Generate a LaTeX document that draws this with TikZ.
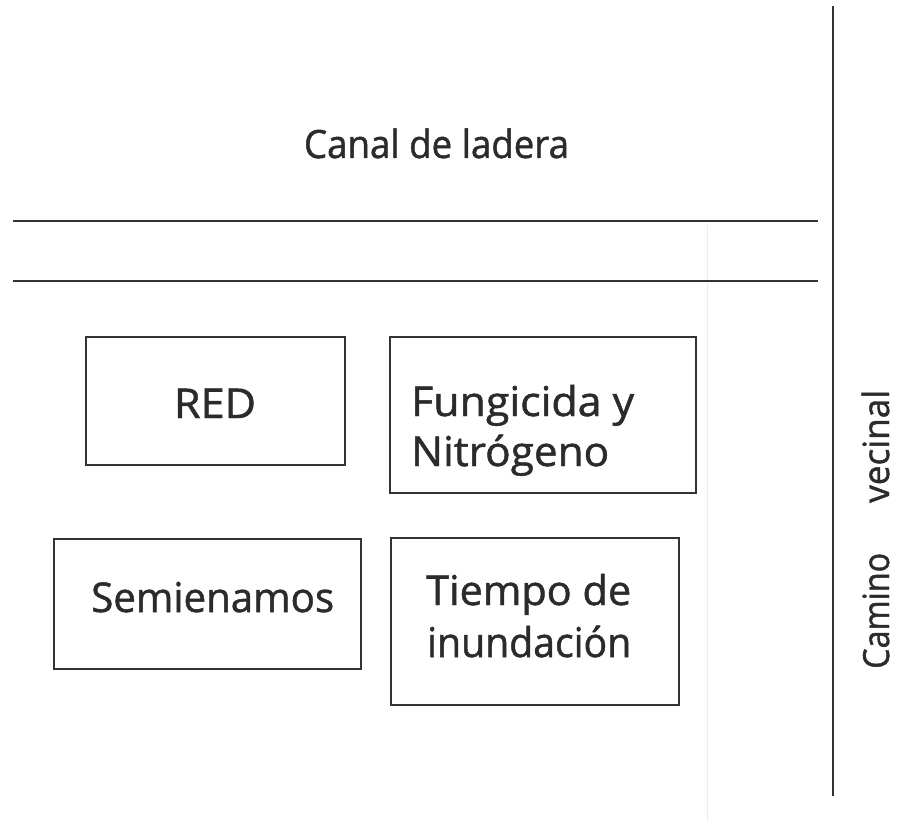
\documentclass[tikz,border=0pt]{standalone}
\usepackage{fontspec}
\setmainfont{Open Sans}[FakeBold=1.2]
\usepackage{graphicx}
\definecolor{linec}{HTML}{333333}
\definecolor{txtc}{HTML}{2B2B2B}
\newcommand\fitw[2]{\resizebox{#1pt}{\height}{#2}}
\tikzset{
  plotbox/.style={draw=linec, line width=1.6pt, inner sep=0pt},
  lbl/.style={inner sep=0pt, text=txtc, font=\fontsize{41}{49}\selectfont},
  rule/.style={draw=linec, line width=1.6pt},
}
\begin{document}
\begin{tikzpicture}[x=1pt,y=-1pt]
\useasboundingbox[fill=white] (0,0) rectangle (908,821);
\draw[black!7, line width=1pt] (707,225) -- (707,821);
% rules
\coordinate (h1a) at (13,221); \coordinate (h1b) at (818,221);
\coordinate (h2a) at (13,281); \coordinate (h2b) at (818,281);
\coordinate (va) at (833,6); \coordinate (vb) at (833,796);
\draw[rule] (h1a) -- (h1b);
\draw[rule] (h2a) -- (h2b);
\draw[rule] (va) -- (vb);
% boxes
\node[plotbox, minimum width=259pt, minimum height=128pt] (red) at (215.5,401) {};
\node[plotbox, minimum width=306pt, minimum height=156pt] (fun) at (543,415) {};
\node[plotbox, minimum width=307pt, minimum height=130pt] (sem) at (207.5,604) {};
\node[plotbox, minimum width=288pt, minimum height=167pt] (tie) at (535,621.5) {};
% labels
\node[lbl, anchor=base] (tred) at (215,418) {\fitw{82}{RED}};
\node[lbl, anchor=base west] (tf1) at (411,416) {\fitw{223}{Fungicida y}};
\node[lbl, anchor=base west] (tf2) at (411,466) {\fitw{198}{Nitrógeno}};
\node[lbl, anchor=base west] (ts) at (91,612) {\fitw{243}{Semienamos}};
\node[lbl, anchor=base west] (tt1) at (426,605) {\fitw{205}{Tiempo de}};
\node[lbl, anchor=base west] (tt2) at (427,657) {\fitw{204}{inundación}};
\node[lbl, font=\fontsize{39}{47}\selectfont, anchor=base] (canal) at (436.5,158) {\fitw{265}{Canal de ladera}};
\node[lbl, font=\fontsize{36}{43}\selectfont, rotate=90, anchor=base west] (cam) at (889,669) {\fitw{116}{Camino}};
\node[lbl, font=\fontsize{36}{43}\selectfont, rotate=90, anchor=base west] (vec) at (889,503) {\fitw{113}{vecinal}};
\end{tikzpicture}
\end{document}
